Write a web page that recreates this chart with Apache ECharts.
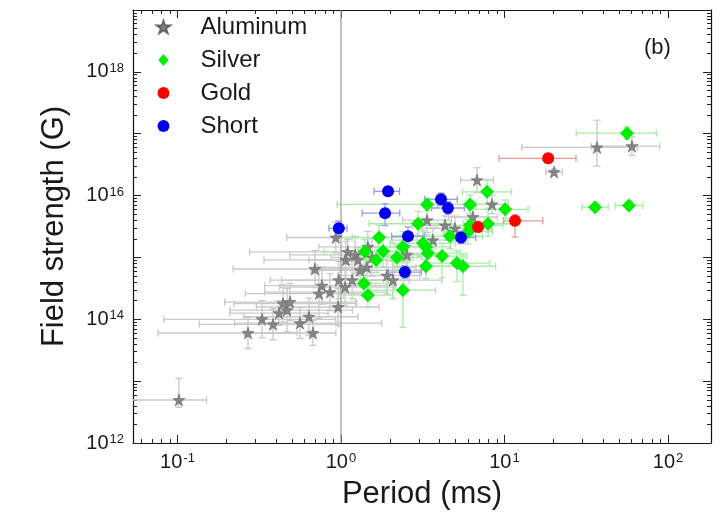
<!DOCTYPE html>
<html><head><meta charset="utf-8">
<script src="https://cdn.jsdelivr.net/npm/echarts@6/dist/echarts.min.js"></script>
<style>html,body{margin:0;padding:0;background:#fff}#c{width:724px;height:521px}</style>
</head><body><div id="c"></div>
<script>
// ---- Data (Period in ms, Field in G). Error bars as [P minus, P plus, B minus, B plus] in decades ----
const alPeriod = [0.102, 36.8, 60.2, 20.1, 6.79, 8.39, 6.41, 3.36, 4.33, 4.98, 3.65, 2.53, 0.93, 0.97, 0.96, 0.27, 0.329, 0.384, 0.442, 0.468, 0.418, 0.488, 0.561, 0.637, 0.674, 0.693, 0.733, 0.765, 0.857, 1.06, 1.17, 1.22, 1.10, 1.07, 1.31, 1.44, 1.27, 1.55, 1.46, 1.91, 2.08];
const alField = [4.96e12, 6.0e16, 6.3e16, 2.4e16, 1.78e16, 7.2e15, 4.5e15, 4.0e15, 3.3e15, 2.95e15, 1.9e15, 1.1e15, 2.1e15, 4.3e14, 1.58e14, 6.0e13, 1.0e14, 8.3e13, 1.8e14, 1.41e14, 1.26e14, 1.9e14, 8.7e13, 1.1e14, 6.0e13, 6.5e14, 2.6e14, 3.5e14, 2.75e14, 3.3e14, 4.3e14, 1.1e15, 1.23e15, 9.1e14, 6.2e14, 6.9e14, 9.1e14, 1.0e15, 1.48e15, 5.1e14, 4.3e14];
const alErr = [[0.45,0.17,0.12,0.35],[0.46,0.25,0.3,0.44],[0.25,0.17,0.15,0.15],[0.05,0.05,0.05,0.05],[0.1,0.1,0.2,0.2],[0.1,0.1,0.15,0.15],[0.15,0.15,0.2,0.2],[0.15,0.15,0.2,0.2],[0.2,0.2,0.15,0.15],[0.2,0.2,0.2,0.2],[0.25,0.2,0.2,0.2],[0.3,0.2,0.25,0.25],[0.3,0.1,0.25,0.25],[0.35,0.3,0.3,0.3],[0.5,0.25,0.3,0.3],[0.55,0.3,0.25,0.25],[0.6,0.45,0.3,0.3],[0.45,0.4,0.25,0.25],[0.3,0.45,0.3,0.3],[0.35,0.4,0.35,0.35],[0.3,0.3,0.2,0.2],[0.4,0.4,0.3,0.3],[0.4,0.5,0.25,0.25],[0.4,0.3,0.3,0.3],[0.42,0.14,0.2,0.2],[0.5,0.3,0.3,0.3],[0.45,0.3,0.4,0.4],[0.35,0.45,0.3,0.3],[0.4,0.35,0.3,0.3],[0.4,0.3,0.3,0.3],[0.5,0.35,0.3,0.3],[0.4,0.25,0.3,0.3],[0.6,0.1,0.2,0.2],[0.5,0.3,0.3,0.3],[0.3,0.4,0.25,0.25],[0.3,0.3,0.3,0.3],[0.3,0.3,0.2,0.2],[0.25,0.25,0.3,0.3],[0.3,0.2,0.25,0.25],[0.3,0.2,0.3,0.3],[0.25,0.3,0.3,0.3]];

const agPeriod = [56.1, 35.8, 57.7, 7.82, 6.15, 10.1, 3.36, 2.96, 6.15, 7.93, 4.64, 1.71, 1.40, 1.81, 1.64, 2.20, 2.39, 3.31, 3.40, 4.15, 5.12, 3.31, 5.57, 1.38, 1.46, 2.39, 3.17, 5.98];
const agField = [1.02e17, 6.5e15, 6.9e15, 1.15e16, 7.2e15, 6.0e15, 7.2e15, 3.5e15, 3.3e15, 3.5e15, 2.2e15, 2.1e15, 1.23e15, 1.26e15, 9.1e14, 1.0e15, 1.48e15, 1.48e15, 1.17e15, 1.05e15, 8.1e14, 7.2e14, 7.2e14, 3.8e14, 2.45e14, 2.95e14, 1.7e15, 2.6e15];
const agErr = [[0.31,0.18,0.1,0.1],[0.08,0.08,0.05,0.05],[0.085,0.085,0.05,0.05],[0.15,0.15,0.2,0.2],[0.2,0.15,0.15,0.15],[0.2,0.14,0.15,0.15],[0.55,0.3,0.1,0.1],[0.3,0.2,0.2,0.2],[0.2,0.2,0.15,0.15],[0.15,0.15,0.2,0.25],[0.2,0.2,0.2,0.2],[0.25,0.15,0.2,0.2],[0.25,0.2,0.2,0.2],[0.15,0.15,0.25,0.25],[0.2,0.2,0.2,0.2],[0.15,0.15,0.2,0.2],[0.2,0.2,0.25,0.25],[0.15,0.15,0.2,0.2],[0.2,0.2,0.2,0.2],[0.15,0.15,0.35,0.2],[0.2,0.2,0.3,0.2],[0.2,0.2,0.2,0.2],[0.2,0.2,0.47,0.2],[0.15,0.15,0.2,0.2],[0.15,0.15,0.2,0.2],[0.2,0.2,0.6,0.6],[0.2,0.2,0.2,0.2],[0.15,0.15,0.2,0.2]];

const auPeriod = [18.5, 11.6, 6.89];
const auField = [4.0e16, 3.9e15, 3.1e15];
const auErr = [[0.30,0.17,0.08,0.08],[0.07,0.17,0.26,0.1],[0.08,0.08,0.08,0.08]];

const shPeriod = [1.94, 1.86, 0.97, 4.09, 4.51, 2.57, 5.42, 2.46];
const shField = [1.17e16, 5.2e15, 2.95e15, 8.7e15, 6.3e15, 2.2e15, 2.1e15, 5.8e14];
const shErr = [[0.085,0.07,0.07,0.07],[0.14,0.09,0.2,0.15],[0.06,0.05,0.12,0.12],[0.1,0.1,0.1,0.1],[0.1,0.1,0.1,0.1],[0.1,0.1,0.15,0.15],[0.09,0.09,0.1,0.1],[0.1,0.1,0.1,0.1]];

const xTickExp = [-1, 0, 1, 2];          // labelled decades on period axis
const yTickExp = [12, 14, 16, 18];       // labelled decades on field axis
const xRange = [-1.272, 2.263];          // axis extent, log10(ms)
const yRange = [12, 19];                 // axis extent, log10(G)

// ---- helpers ----
const L = Math.log10;
function pts(P, B) { return P.map((p, i) => [L(p), L(B[i])]); }
function errs(P, B, E) {
  return P.map((p, i) => {
    const x = L(p), y = L(B[i]), e = E[i];
    return [x, y, x - e[0], x + e[1], y - e[2], y + e[3]];
  });
}
function decades(lo, hi) { const o = []; for (let n = Math.ceil(lo); n <= Math.floor(hi); n++) o.push(n); return o; }
function minors(lo, hi) {
  const o = [];
  for (let n = Math.floor(lo); n <= Math.ceil(hi); n++)
    for (let k = 2; k <= 9; k++) { const v = n + L(k); if (v > lo && v < hi) o.push(v); }
  return o;
}
const rich = {
  b: { fontSize: 20, color: '#1a1a1a', fontFamily: 'Liberation Sans' },
  s: { fontSize: 13, color: '#1a1a1a', verticalAlign: 'top', fontFamily: 'Liberation Sans', padding: [0, 0, 0, 1] }
};
function pow10(v) { return '{b|10}{s|' + Math.round(v) + '}'; }

function errRender(color) {
  return function (params, api) {
    const x = api.value(0), y = api.value(1);
    const a = api.coord([api.value(2), y]), b = api.coord([api.value(3), y]);
    const c = api.coord([x, api.value(4)]), d = api.coord([x, api.value(5)]);
    const h = 3.5;
    const st = () => ({ stroke: color, lineWidth: 1.3, fill: null });
    return { type: 'group', children: [
      { type: 'line', shape: { x1: a[0], y1: a[1], x2: b[0], y2: b[1] }, style: st() },
      { type: 'line', shape: { x1: a[0], y1: a[1] - h, x2: a[0], y2: a[1] + h }, style: st() },
      { type: 'line', shape: { x1: b[0], y1: b[1] - h, x2: b[0], y2: b[1] + h }, style: st() },
      { type: 'line', shape: { x1: c[0], y1: c[1], x2: d[0], y2: d[1] }, style: st() },
      { type: 'line', shape: { x1: c[0] - h, y1: c[1], x2: c[0] + h, y2: c[1] }, style: st() },
      { type: 'line', shape: { x1: d[0] - h, y1: d[1], x2: d[0] + h, y2: d[1] }, style: st() }
    ]};
  };
}
function errSeries(name, data, color) {
  return { name: name + ' err', type: 'custom', xAxisIndex: 0, yAxisIndex: 0, clip: true, silent: true, z: 1,
    renderItem: errRender(color), encode: { x: [0, 2, 3], y: [1, 4, 5] }, data: data };
}
const STAR = 'path://M50,0 L61.8,35.3 L100,35.3 L69.1,57.1 L80.9,92.7 L50,70.5 L19.1,92.7 L30.9,57.1 L0,35.3 L38.2,35.3 Z';
const DIAMOND = 'path://M50,0 L100,58 L50,116 L0,58 Z';

const gridBox = { left: 133, right: 13, top: 10, bottom: 78 };

function tickCfg(major, ticks) {
  return { show: true, inside: true, length: major ? 8 : 4, customValues: ticks, lineStyle: { color: '#222', width: 1 } };
}
function xAx(grid, pos, major, withLabel) {
  return {
    type: 'value', gridIndex: grid, position: pos, min: xRange[0], max: xRange[1],
    axisLine: { show: major, onZero: false, lineStyle: { color: '#111', width: 1.2 } },
    axisTick: tickCfg(major, major ? decades(xRange[0], xRange[1]) : minors(xRange[0], xRange[1])),
    axisLabel: withLabel ? { show: true, customValues: xTickExp, formatter: pow10, rich: rich, margin: 9 } : { show: false },
    splitLine: { show: false },
    name: withLabel ? 'Period (ms)' : '', nameLocation: 'middle', nameGap: 36,
    nameTextStyle: { fontSize: 31, color: '#1a1a1a', fontFamily: 'Liberation Sans' }
  };
}
function yAx(grid, pos, major, withLabel) {
  return {
    type: 'value', gridIndex: grid, position: pos, min: yRange[0], max: yRange[1],
    axisLine: { show: major, onZero: false, lineStyle: { color: '#111', width: 1.2 } },
    axisTick: tickCfg(major, major ? decades(yRange[0], yRange[1]) : minors(yRange[0], yRange[1])),
    axisLabel: withLabel ? { show: true, customValues: yTickExp, formatter: pow10, rich: rich, margin: 9 } : { show: false },
    splitLine: { show: false },
    name: withLabel ? 'Field strength (G)' : '', nameLocation: 'middle', nameGap: 63,
    nameTextStyle: { fontSize: 31, color: '#1a1a1a', fontFamily: 'Liberation Sans' }
  };
}

const option = {
  animation: false,
  backgroundColor: '#fff',
  textStyle: { fontFamily: 'Liberation Sans' },
  title: { text: '(b)', left: 639, top: 32, textStyle: { fontSize: 22, fontWeight: 'normal', color: '#1a1a1a', fontFamily: 'Liberation Sans' } },
  grid: [Object.assign({}, gridBox), Object.assign({}, gridBox)],
  xAxis: [xAx(0, 'bottom', true, true), xAx(0, 'top', true, false), xAx(1, 'bottom', false, false), xAx(1, 'top', false, false)],
  yAxis: [yAx(0, 'left', true, true), yAx(0, 'right', true, false), yAx(1, 'left', false, false), yAx(1, 'right', false, false)],
  legend: {
    data: ['Aluminum', 'Silver', 'Gold', 'Short'], orient: 'vertical', left: 151, top: 9,
    itemWidth: 64, itemHeight: 12, itemGap: 7, selectedMode: false,
    textStyle: { fontSize: 24, color: '#1a1a1a', lineHeight: 26, fontFamily: 'Liberation Sans' }
  },
  series: [
    errSeries('Aluminum', errs(alPeriod, alField, alErr), '#c9c9c9'),
    errSeries('Silver', errs(agPeriod, agField, agErr), '#a6eda6'),
    errSeries('Gold', errs(auPeriod, auField, auErr), '#ee9a9a'),
    errSeries('Short', errs(shPeriod, shField, shErr), '#9a9aee'),
    { name: 'ref', type: 'line', xAxisIndex: 0, yAxisIndex: 0, silent: true, symbol: 'none', z: 1,
      lineStyle: { color: '#9a9a9a', width: 1.2 }, data: [[0, yRange[0]], [0, yRange[1]]] },
    { name: 'Aluminum', type: 'scatter', xAxisIndex: 0, yAxisIndex: 0, symbol: STAR, symbolSize: 12, z: 3,
      itemStyle: { color: '#858585', borderColor: '#666', borderWidth: 0.6, opacity: 1 }, data: pts(alPeriod, alField) },
    { name: 'Silver', type: 'scatter', xAxisIndex: 0, yAxisIndex: 0, symbol: DIAMOND, symbolSize: 14, z: 3,
      itemStyle: { color: '#00ee00', opacity: 1 }, data: pts(agPeriod, agField) },
    { name: 'Gold', type: 'scatter', xAxisIndex: 0, yAxisIndex: 0, symbol: 'circle', symbolSize: 12, z: 3,
      itemStyle: { color: '#ff0000', opacity: 1 }, data: pts(auPeriod, auField) },
    { name: 'Short', type: 'scatter', xAxisIndex: 0, yAxisIndex: 0, symbol: 'circle', symbolSize: 12, z: 3,
      itemStyle: { color: '#0000ee', opacity: 1 }, data: pts(shPeriod, shField) }
  ]
};
echarts.init(document.getElementById('c'), null, { renderer: 'canvas' }).setOption(option);
</script>
</body></html>
